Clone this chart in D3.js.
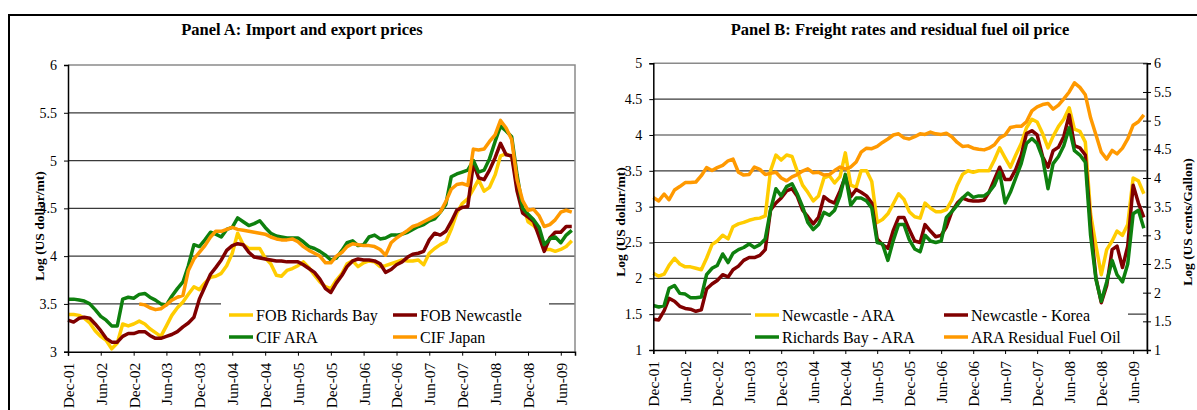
<!DOCTYPE html>
<html>
<head>
<meta charset="utf-8">
<script src="https://cdn.jsdelivr.net/npm/d3@7"></script>
<style>
  body { margin: 0; background: #fff; }
  svg { display: block; font-family: "Liberation Serif", "Times New Roman", serif; }
</style>
</head>
<body>
<svg id="chart" width="1197" height="410"></svg>
<script>
// monthly readings, Dec-01 .. Aug-09
var fobRichardsBay = [3.39,3.39,3.38,3.35,3.30,3.22,3.16,3.12,3.03,3.09,3.29,3.27,3.29,3.32,3.29,3.24,3.20,3.16,3.27,3.38,
  3.46,3.52,3.60,3.68,3.65,3.72,3.78,3.79,3.82,3.90,4.03,4.24,4.12,4.08,4.08,4.08,3.98,3.92,3.80,3.79,
  3.85,3.87,3.90,3.94,3.88,3.80,3.73,3.68,3.66,3.75,3.82,3.92,3.95,3.89,3.93,3.95,3.94,3.89,3.90,3.92,
  3.94,3.96,3.95,3.95,3.96,3.91,4.03,4.08,4.12,4.15,4.28,4.45,4.55,4.60,4.70,4.80,4.68,4.72,4.85,5.05,
  5.07,5.04,4.78,4.55,4.36,4.32,4.25,4.07,4.07,4.05,4.07,4.10,4.16]
var fobNewcastle = [3.33,3.31,3.35,3.36,3.35,3.29,3.22,3.14,3.10,3.10,3.16,3.19,3.19,3.21,3.21,3.17,3.14,3.14,3.16,3.18,
  3.21,3.26,3.30,3.36,3.55,3.68,3.81,3.88,3.96,4.06,4.11,4.13,4.12,4.04,3.99,3.98,3.97,3.96,3.95,3.95,
  3.94,3.94,3.94,3.91,3.87,3.83,3.76,3.66,3.62,3.72,3.80,3.89,3.95,3.97,3.96,3.96,3.95,3.92,3.83,3.86,
  3.91,3.94,3.99,4.02,4.03,4.05,4.17,4.24,4.22,4.26,4.36,4.48,4.51,4.52,4.97,4.82,4.80,4.90,5.03,5.18,
  5.06,5.05,4.68,4.45,4.41,4.36,4.20,4.05,4.19,4.25,4.25,4.31,4.31]
var cifAra = [3.55,3.55,3.54,3.53,3.50,3.44,3.37,3.33,3.27,3.27,3.55,3.57,3.56,3.60,3.61,3.57,3.54,3.50,3.49,3.58,
  3.66,3.73,3.90,4.12,4.10,4.17,4.25,4.23,4.20,4.28,4.30,4.40,4.36,4.32,4.34,4.37,4.30,4.24,4.21,4.20,
  4.19,4.19,4.19,4.15,4.10,4.08,4.05,4.01,3.96,3.98,4.06,4.14,4.16,4.11,4.12,4.20,4.22,4.18,4.19,4.22,
  4.22,4.23,4.25,4.28,4.31,4.33,4.37,4.39,4.46,4.54,4.83,4.86,4.88,4.90,5.00,4.88,4.90,5.02,5.20,5.36,
  5.31,5.25,4.85,4.50,4.44,4.38,4.30,4.12,4.18,4.20,4.14,4.22,4.27]
var cifJapan = [null,null,null,null,null,null,null,null,null,null,null,null,null,3.50,3.49,3.46,3.44,3.45,3.49,3.54,
  3.57,3.59,3.85,3.97,4.04,4.11,4.20,4.26,4.26,4.28,4.30,4.28,4.27,4.26,4.25,4.24,4.23,4.20,4.18,4.17,
  4.17,4.18,4.15,4.10,4.06,4.03,4.00,3.93,3.93,4.00,4.04,4.10,4.13,4.12,4.11,4.11,4.10,4.07,4.01,4.14,
  4.19,4.23,4.27,4.31,4.33,4.36,4.39,4.42,4.46,4.57,4.70,4.75,4.76,4.74,5.12,5.11,5.12,5.20,5.27,5.42,
  5.34,5.22,4.80,4.58,4.48,4.49,4.42,4.31,4.33,4.38,4.46,4.48,4.46]

var newcastleAra = [2.07,2.03,2.06,2.18,2.28,2.20,2.16,2.16,2.14,2.12,2.28,2.47,2.52,2.60,2.55,2.72,2.76,2.78,2.81,2.83,
  2.84,2.87,3.50,3.72,3.65,3.72,3.70,3.50,3.30,3.20,3.08,3.15,3.40,3.43,3.33,3.42,3.75,3.30,3.27,3.50,
  3.50,3.35,2.78,2.82,2.90,3.04,3.18,3.10,2.93,2.86,2.84,3.05,2.98,2.93,2.93,2.96,3.09,3.30,3.45,3.50,
  3.48,3.50,3.50,3.50,3.65,3.82,3.68,3.55,3.72,3.88,4.10,4.22,4.18,4.02,3.82,3.98,4.12,4.22,4.38,4.08,
  4.05,3.90,2.90,2.45,2.05,2.40,2.52,2.66,2.60,2.75,3.40,3.36,3.18]
var newcastleKorea = [1.43,1.42,1.55,1.72,1.68,1.61,1.58,1.57,1.54,1.56,1.85,1.92,1.97,2.05,2.02,2.12,2.17,2.25,2.29,2.29,
  2.32,2.40,2.95,3.05,3.12,3.22,3.25,3.15,2.95,2.86,2.76,2.85,3.14,3.08,3.05,3.22,3.42,3.14,3.24,3.20,
  3.15,3.05,2.55,2.47,2.42,2.67,2.85,2.85,2.68,2.52,2.50,2.75,2.66,2.58,2.60,2.72,2.93,3.05,3.12,3.09,
  3.08,3.08,3.09,3.20,3.38,3.55,3.38,3.38,3.52,3.72,4.02,4.06,4.00,3.70,3.55,3.78,3.83,3.98,4.28,3.85,
  3.82,3.72,2.75,2.00,1.66,1.90,2.40,2.45,2.15,2.45,3.30,3.05,2.85]
var richardsBayAra = [1.62,1.60,1.62,1.86,1.90,1.79,1.78,1.73,1.73,1.74,2.05,2.14,2.18,2.34,2.22,2.35,2.40,2.43,2.48,2.43,
  2.47,2.55,2.95,3.25,3.15,3.28,3.32,3.18,3.00,2.78,2.68,2.75,2.92,2.88,2.95,3.15,3.45,3.02,3.12,3.12,
  3.08,2.98,2.50,2.48,2.25,2.53,2.75,2.75,2.54,2.41,2.37,2.60,2.52,2.50,2.52,2.85,2.93,3.02,3.12,3.19,
  3.13,3.15,3.15,3.20,3.30,3.48,3.05,3.20,3.40,3.60,3.88,3.95,3.88,3.68,3.25,3.60,3.70,3.85,4.10,3.78,
  3.72,3.62,2.60,1.98,1.68,1.95,2.25,2.05,1.95,2.20,2.90,2.95,2.70]
// right axis, log US cents/gallon
var araFuelOil = [3.66,3.60,3.72,3.62,3.79,3.85,3.92,3.92,3.93,4.04,4.18,4.13,4.18,4.22,4.30,4.33,4.10,4.05,4.06,4.19,
  4.15,4.06,4.08,4.10,4.00,3.95,4.02,4.06,4.12,4.16,4.09,4.10,4.05,4.06,4.13,4.19,4.16,4.19,4.28,4.45,
  4.52,4.51,4.55,4.62,4.68,4.75,4.77,4.70,4.68,4.72,4.77,4.76,4.80,4.77,4.76,4.78,4.72,4.62,4.55,4.56,
  4.52,4.50,4.49,4.52,4.58,4.70,4.75,4.88,4.90,4.90,4.98,5.17,5.24,5.28,5.30,5.20,5.27,5.38,5.50,5.66,
  5.58,5.45,5.05,4.75,4.45,4.33,4.48,4.42,4.52,4.68,4.92,4.98,5.10]

var tickLabels = ["Dec-01","Jun-02","Dec-02","Jun-03","Dec-03","Jun-04","Dec-04","Jun-05","Dec-05","Jun-06",
  "Dec-06","Jun-07","Dec-07","Jun-08","Dec-08","Jun-09"]
var yTicksA = [3, 3.5, 4, 4.5, 5, 5.5, 6]
var yTicksB = [1, 1.5, 2, 2.5, 3, 3.5, 4, 4.5, 5]
var yTicksRight = [1, 1.5, 2, 2.5, 3, 3.5, 4, 4.5, 5, 5.5, 6]

var dates = d3.timeMonth.range(new Date(2001, 11, 1), new Date(2009, 8, 1))
var parseTick = d3.timeParse("%b-%y")
var tickDates = tickLabels.map(parseTick)
var endDate = new Date(2009, 7, 19)

var svg = d3.select("#chart")

// outer frame
svg.append("path")
    .attr("d", "M9,410V15H1197")
    .attr("fill", "none")
    .attr("stroke", "#000")
    .attr("stroke-width", 2)

function drawPanel(p) {
    var g = svg.append("g")
    var x = d3.scaleTime().domain([dates[0], endDate]).range([p.left, p.right])
    var y = d3.scaleLinear().domain(p.yDomain).range([p.bottom, p.top])
    var yR = p.rightDomain ? d3.scaleLinear().domain(p.rightDomain).range([p.bottom, p.top]) : null

    // gridlines
    g.append("g").selectAll("line")
        .data(p.yTicks.slice(1, -1))
        .enter().append("line")
        .attr("x1", p.left).attr("x2", p.right)
        .attr("y1", d => y(d)).attr("y2", d => y(d))
        .attr("stroke", "#3a3a3a").attr("stroke-width", 1.2)

    // plot border top / right
    g.append("path")
        .attr("d", `M${p.left},${p.top}H${p.right}V${p.bottom}`)
        .attr("fill", "none").attr("stroke", "#8a8a8a").attr("stroke-width", 1.5)

    // legend box hides grid
    g.append("rect")
        .attr("x", p.legend.x0).attr("y", p.legend.y0)
        .attr("width", p.legend.x1 - p.legend.x0).attr("height", p.bottom - 2 - p.legend.y0)
        .attr("fill", "#fff")

    var line = d3.line()
        .defined(d => d != null)
        .x((d, i) => x(dates[i]))

    p.series.forEach(function(s) {
        var sc = s.right ? yR : y
        g.append("path")
            .datum(s.values)
            .attr("fill", "none")
            .attr("stroke", s.color)
            .attr("stroke-width", 3.5)
            .attr("stroke-linejoin", "round")
            .attr("d", line.y(d => sc(d)))
    })

    // left axis
    var yAxis = g.append("g")
        .attr("transform", `translate(${p.left},0)`)
        .call(d3.axisLeft(y).tickValues(p.yTicks).tickFormat(d3.format("~g")).tickSize(4).tickPadding(7))
    yAxis.select(".domain").attr("stroke", "#000").attr("stroke-width", 1.5)
    yAxis.selectAll("text").attr("font-size", 14).attr("fill", "#000")
        .attr("font-family", "Liberation Serif")

    if (yR) {
        var rAxis = g.append("g")
            .attr("transform", `translate(${p.right},0)`)
            .call(d3.axisRight(yR).tickValues(yTicksRight).tickFormat(d3.format("~g")).tickSize(4).tickPadding(3))
        rAxis.selectAll(".tick line").attr("x1", -4)
        rAxis.select(".domain").attr("stroke", "#000").attr("stroke-width", 1.5)
        rAxis.selectAll("text").attr("font-size", 14).attr("fill", "#000")
            .attr("font-family", "Liberation Serif")
    }

    // bottom axis
    var xAxis = g.append("g")
        .attr("transform", `translate(0,${p.bottom})`)
        .call(d3.axisBottom(x).tickValues(tickDates).tickFormat((d, i) => tickLabels[i]).tickSize(4))
    xAxis.select(".domain").attr("stroke", "#000").attr("stroke-width", 1.5)
    xAxis.selectAll("text")
        .attr("font-size", 15.5).attr("fill", "#000").attr("font-family", "Liberation Serif")
        .attr("text-anchor", "end")
        .attr("transform", "rotate(-90)")
        .attr("x", -11).attr("y", 0).attr("dy", "0.35em")

    // titles
    g.append("text")
        .attr("x", p.titleX).attr("y", 35)
        .attr("text-anchor", "middle")
        .attr("font-size", 16.5).attr("font-weight", "bold")
        .text(p.title)

    g.append("text")
        .attr("transform", `translate(${p.yLabelX},${p.yLabelY}) rotate(-90)`)
        .attr("text-anchor", "middle")
        .attr("font-size", 13.5).attr("font-weight", "bold")
        .text("Log (US dollar/mt)")

    if (p.rightLabel) {
        g.append("text")
            .attr("transform", `translate(1192,222) rotate(-90)`)
            .attr("text-anchor", "middle")
            .attr("font-size", 13.5).attr("font-weight", "bold")
            .text(p.rightLabel)
    }

    // legend
    p.series.forEach(function(s, i) {
        var col = i % 2, row = Math.floor(i / 2)
        var lx = p.legend.cols[col], ly = p.legend.rows[row]
        g.append("line")
            .attr("x1", lx).attr("x2", lx + 24)
            .attr("y1", ly).attr("y2", ly)
            .attr("stroke", s.color).attr("stroke-width", 3.5)
        g.append("text")
            .attr("x", lx + 27).attr("y", ly).attr("dy", "0.35em")
            .attr("font-size", 16)
            .text(s.name)
    })
}

drawPanel({
    left: 68, right: 575, top: 65, bottom: 351.7,
    yDomain: [3, 6], yTicks: yTicksA,
    title: "Panel A: Import and export prices", titleX: 302,
    yLabelX: 44, yLabelY: 226,
    legend: { x0: 221, x1: 549, y0: 298, cols: [229, 393], rows: [315, 337] },
    series: [
        { name: "FOB Richards Bay", values: fobRichardsBay, color: "#FFCC00" },
        { name: "FOB Newcastle", values: fobNewcastle, color: "#800000" },
        { name: "CIF ARA", values: cifAra, color: "#0E800E" },
        { name: "CIF Japan", values: cifJapan, color: "#FF9900" }
    ]
})

drawPanel({
    left: 653.3, right: 1147, top: 63.3, bottom: 350,
    yDomain: [1, 5], yTicks: yTicksB, rightDomain: [1, 6],
    title: "Panel B: Freight rates and residual fuel oil price", titleX: 900,
    yLabelX: 625, yLabelY: 222,
    rightLabel: "Log (US cents/Gallon)",
    legend: { x0: 751, x1: 1128, y0: 306, cols: [755, 944], rows: [315, 337] },
    series: [
        { name: "Newcastle - ARA", values: newcastleAra, color: "#FFCC00" },
        { name: "Newcastle - Korea", values: newcastleKorea, color: "#800000" },
        { name: "Richards Bay - ARA", values: richardsBayAra, color: "#0E800E" },
        { name: "ARA Residual Fuel Oil", values: araFuelOil, color: "#FF9900", right: true }
    ]
})
</script>
</body>
</html>
